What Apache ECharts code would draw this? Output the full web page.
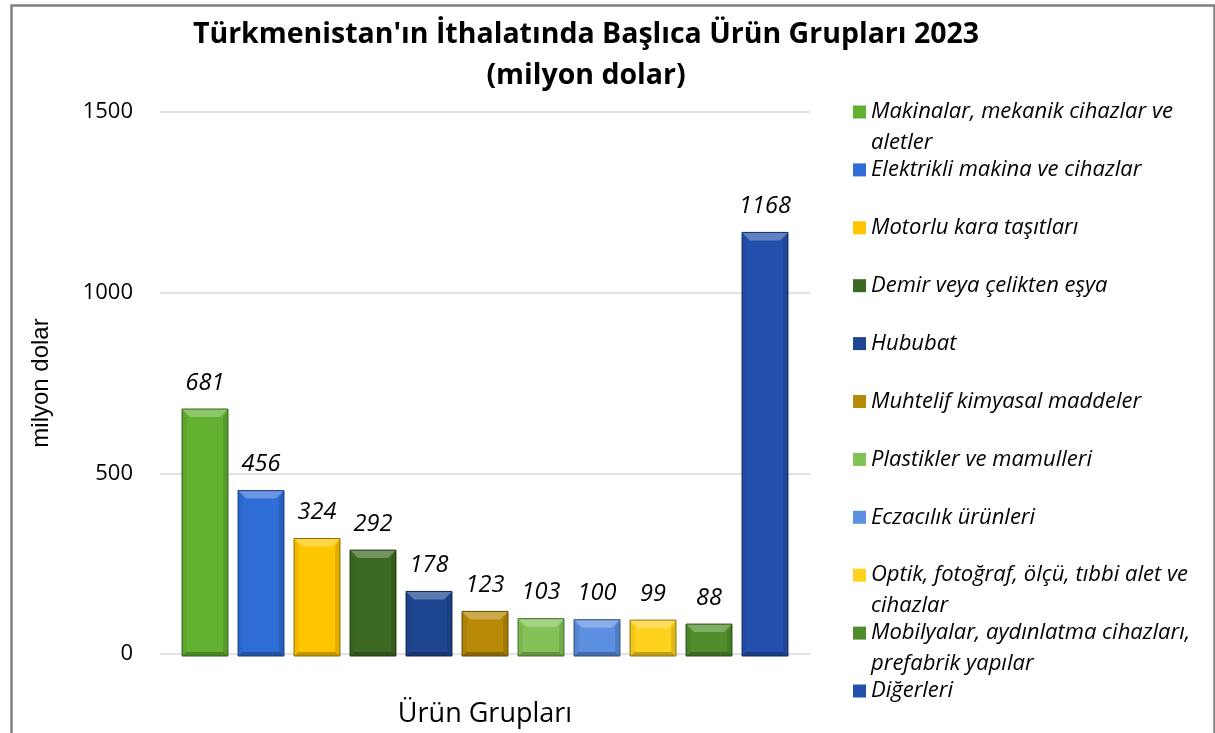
<!DOCTYPE html>
<html>
<head>
<meta charset="utf-8">
<script src="https://cdn.jsdelivr.net/npm/echarts@6/dist/echarts.min.js"></script>
<style>
html,body{margin:0;padding:0;background:#fff;}
#chart{width:1215px;height:733px;}
</style>
</head>
<body>
<div id="chart"></div>
<script>
const categories = [
  'Makinalar, mekanik cihazlar ve aletler',
  'Elektrikli makina ve cihazlar',
  'Motorlu kara taşıtları',
  'Demir veya çelikten eşya',
  'Hububat',
  'Muhtelif kimyasal maddeler',
  'Plastikler ve mamulleri',
  'Eczacılık ürünleri',
  'Optik, fotoğraf, ölçü, tıbbi alet ve cihazlar',
  'Mobilyalar, aydınlatma cihazları, prefabrik yapılar',
  'Diğerleri'
];
const legendLabels = [
  'Makinalar, mekanik cihazlar ve\naletler',
  'Elektrikli makina ve cihazlar',
  'Motorlu kara taşıtları',
  'Demir veya çelikten eşya',
  'Hububat',
  'Muhtelif kimyasal maddeler',
  'Plastikler ve mamulleri',
  'Eczacılık ürünleri',
  'Optik, fotoğraf, ölçü, tıbbi alet ve\ncihazlar',
  'Mobilyalar, aydınlatma cihazları,\nprefabrik yapılar',
  'Diğerleri'
];
const values = [681, 456, 324, 292, 178, 123, 103, 100, 99, 88, 1168];
const colors = ['#62b130', '#2e6cd6', '#ffc600', '#3d6a22', '#1e4690', '#b88a08',
                '#82c256', '#5b8fdf', '#ffd21e', '#4e8d2a', '#2450ad'];
const yMin = 0, yMax = 1500, yInterval = 500;
const titleText = "Türkmenistan'ın İthalatında Başlıca Ürün Grupları 2023\n(milyon dolar)";
const xAxisTitle = 'Ürün Grupları';
const yAxisTitle = 'milyon dolar';

function shade(hex, amt) {
  const n = parseInt(hex.slice(1), 16);
  let r = (n >> 16) & 255, g = (n >> 8) & 255, b = n & 255;
  const f = c => amt >= 0 ? Math.round(c + (255 - c) * amt) : Math.round(c * (1 + amt));
  return 'rgb(' + f(r) + ',' + f(g) + ',' + f(b) + ')';
}

const FONT = '"Open Sans", "Noto Sans", sans-serif';

function renderItem(params, api) {
  const xi = api.value(0), v = api.value(1);
  const top = api.coord([xi, v]);
  const base = api.coord([xi, 0]);
  const band = api.size([1, 0])[0];
  const w = band * 0.82;
  const l = top[0] - w / 2, r = top[0] + w / 2;
  const y0 = top[1], y1 = base[1];
  const b = Math.min(8, (y1 - y0) / 2, w / 2);
  const c = api.visual('color');
  return {
    type: 'group',
    children: [
      { type: 'rect', shape: { x: l, y: y0, width: w, height: y1 - y0 },
        style: { fill: c } },
      { type: 'polygon', shape: { points: [[l, y0], [r, y0], [r - b, y0 + b], [l + b, y0 + b]] },
        style: { fill: shade(c, 0.28) } },
      { type: 'polygon', shape: { points: [[l, y0], [l + b * 0.6, y0 + b], [l + b * 0.6, y1 - b * 0.5], [l, y1]] },
        style: { fill: shade(c, -0.06) } },
      { type: 'polygon', shape: { points: [[r, y0], [r - b * 0.6, y0 + b], [r - b * 0.6, y1 - b * 0.5], [r, y1]] },
        style: { fill: shade(c, -0.12) } },
      { type: 'polygon', shape: { points: [[l, y1], [r, y1], [r - b * 0.6, y1 - b * 0.5], [l + b * 0.6, y1 - b * 0.5]] },
        style: { fill: shade(c, -0.25) } },
      { type: 'rect', shape: { x: l, y: y0, width: w, height: y1 - y0 },
        style: { fill: 'none', stroke: shade(c, -0.45), lineWidth: 1 } },
      { type: 'text', x: top[0], y: y0 - 26,
        style: { text: String(v), fill: '#000', font: 'italic 23.5px ' + FONT,
                 textAlign: 'center', textVerticalAlign: 'middle' } }
    ]
  };
}

const legendTop0 = 112, legendStep = 57.9, legendLH = 31;
const legends = categories.map((name, i) => ({
  show: true,
  data: [name],
  orient: 'vertical',
  left: 853,
  top: legendTop0 + i * legendStep - 1.5 * legendLH,
  padding: 0,
  icon: 'rect',
  itemWidth: 13,
  itemHeight: 13,
  itemGap: 0,
  selectedMode: false,
  formatter: () => {
    const t = legendLabels[i];
    return t.indexOf('\n') >= 0 ? '\n' + t : '\n' + t + '\n';
  },
  textStyle: { fontFamily: FONT, fontStyle: 'italic', fontSize: 22, color: '#000', lineHeight: legendLH }
}));

const series = categories.map((name, i) => ({
  type: 'custom',
  name: name,
  xAxisIndex: 1,
  yAxisIndex: 1,
  itemStyle: { color: colors[i] },
  encode: { x: 0, y: 1 },
  data: [[i, values[i]]],
  renderItem: renderItem
}));

const chart = echarts.init(document.getElementById('chart'), null, { renderer: 'canvas' });
chart.setOption({
  backgroundColor: '#fff',
  animation: false,
  title: {
    text: titleText,
    left: 581,
    top: 9,
    textAlign: 'center',
    textStyle: { fontFamily: FONT, fontWeight: 'bold', fontSize: 28.5, color: '#000', lineHeight: 41 }
  },
  legend: legends,
  grid: [
    { left: 160, top: 112, width: 650, height: 544 },
    { left: 177, top: 112, width: 616, height: 544 }
  ],
  xAxis: [
    { type: 'value', gridIndex: 0, min: 0, max: 1,
      axisLine: { show: false }, axisTick: { show: false }, axisLabel: { show: false },
      splitLine: { show: false },
      name: xAxisTitle, nameLocation: 'middle', nameGap: 47,
      nameTextStyle: { fontFamily: FONT, fontSize: 27, color: '#000' } },
    { type: 'category', gridIndex: 1, data: categories, show: false }
  ],
  yAxis: [
    { type: 'value', gridIndex: 0, min: yMin, max: yMax, interval: yInterval,
      axisLine: { show: false }, axisTick: { show: false },
      axisLabel: { fontFamily: FONT, fontSize: 22, color: '#000', margin: 27,
                   formatter: v => String(v) },
      splitLine: { lineStyle: { color: '#d9d9d9', width: 1.5 } },
      name: yAxisTitle, nameLocation: 'middle', nameGap: 107, nameRotate: 90,
      nameTextStyle: { fontFamily: '"Liberation Sans", Arial, sans-serif', fontSize: 24, color: '#000' } },
    { type: 'value', gridIndex: 1, min: yMin, max: yMax, interval: yInterval, show: false }
  ],
  series: series,
  graphic: [
    { type: 'rect', left: 9, top: 3, shape: { width: 1203, height: 800 },
      style: { fill: 'none', stroke: '#808080', lineWidth: 2.5 }, silent: true, z: 100 }
  ]
});
</script>
</body>
</html>
